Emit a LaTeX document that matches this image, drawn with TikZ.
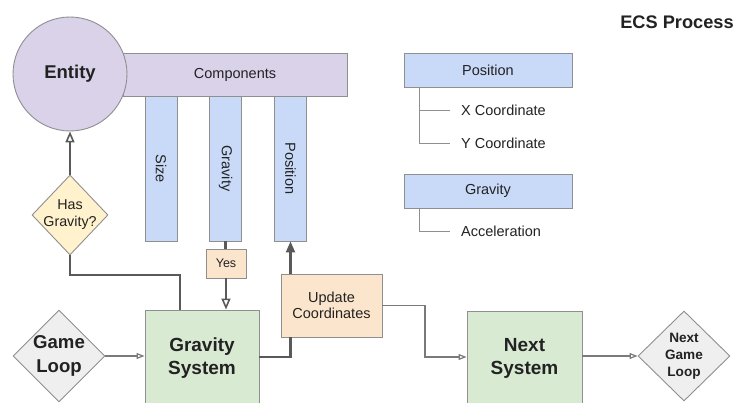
\documentclass[tikz,border=0pt]{standalone}
\usepackage{fontspec}
\setmainfont{Liberation Sans}
\usetikzlibrary{shapes.geometric,arrows.meta}
\definecolor{cpurp}{HTML}{D9D2E9}
\definecolor{cblue}{HTML}{C9DAF8}
\definecolor{corange}{HTML}{FCE5CD}
\definecolor{cyellow}{HTML}{FFF2CC}
\definecolor{cgreen}{HTML}{D9EAD3}
\definecolor{cgray}{HTML}{EFEFEF}
\definecolor{cborder}{HTML}{8F8F8F}
\definecolor{cdark}{HTML}{595959}
\definecolor{cthin}{HTML}{7A7A7A}
\definecolor{ctext}{HTML}{222222}
\tikzset{
  box/.style={draw=cborder, line width=0.9pt, inner sep=0pt, text=ctext, font=\fontsize{14.5}{17}\selectfont},
  bar/.style={box, fill=cblue, rotate=-90, minimum width=145pt, minimum height=32pt},
  diam/.style={draw=cborder, line width=0.9pt, diamond, inner sep=0pt, fill=cgray},
  sysbox/.style={box, fill=cgreen, align=center, font=\bfseries\fontsize{19}{23}\selectfont},
  thickline/.style={draw=cdark, line width=2.2pt},
  thinline/.style={draw=cthin, line width=1.3pt},
  opentip/.style={-{Triangle[open, length=11pt, width=9pt, line width=1.6pt]}},
  smallopen/.style={-{Triangle[open, length=8pt, width=6pt, line width=1.2pt]}},
  treeline/.style={draw=cborder, line width=0.9pt},
  leaf/.style={anchor=west, inner sep=0pt, text=ctext, font=\fontsize{14.5}{17}\selectfont}
}
\begin{document}
\begin{tikzpicture}[x=1pt,y=-1pt]
\useasboundingbox (0,0) rectangle (740,403);
\clip (0,0) rectangle (740,403);
\fill[white] (0,0) rectangle (740,403);

% components bar and entity
\node[box, fill=cpurp, minimum width=224pt, minimum height=43pt] (comp) at (235,74.5) {Components};
\node[box, fill=cpurp, circle, minimum size=114pt, font=\bfseries\fontsize{18.5}{22}\selectfont] (entity) at (70,74) {Entity};

% component bars (rotated: east anchor is the bottom end)
\node[bar] (sbar) at (161,168.5) {Size};
\node[bar] (gbar) at (225.5,168.5) {Gravity};
\node[bar] (pbar) at (290.5,168.5) {Position};

% yes and update
\node[box, fill=corange, minimum width=40pt, minimum height=29pt, font=\fontsize{12.5}{15}\selectfont] (yes) at (226,263.5) {Yes};
\node[box, fill=corange, minimum width=101pt, minimum height=63pt, align=center, font=\fontsize{14.5}{16}\selectfont] (upd) at (331.5,305.5) {Update\\Coordinates};

% systems
\node[sysbox, minimum width=114pt, minimum height=96pt] (gs) at (202,358) {Gravity\\System};
\node[sysbox, minimum width=115pt, minimum height=94pt] (ns) at (524.5,358) {Next\\System};

% diamonds
\node[diam, fill=cyellow, minimum width=76pt, minimum height=80pt,
  label={[align=center, text=ctext, font=\fontsize{14.3}{17}\selectfont]center:Has\\Gravity?}] (hasg) at (70,215) {};
\node[diam, minimum width=92pt, minimum height=92pt,
  label={[align=center, text=ctext, font=\bfseries\fontsize{18.6}{24}\selectfont]center:Game\\Loop}] (gl) at (59,356) {};
\node[diam, minimum width=92pt, minimum height=90pt,
  label={[align=center, text=ctext, font=\bfseries\fontsize{13.6}{17}\selectfont]center:Next\\Game\\Loop}] (ngl) at (684,356) {};

% right side
\node[text=ctext, font=\bfseries\fontsize{18.2}{22}\selectfont, inner sep=0pt] (title) at (677,22) {ECS Process};
\node[box, fill=cblue, minimum width=168pt, minimum height=34pt] (posbox) at (488,70) {Position};
\node[box, fill=cblue, minimum width=168pt, minimum height=34pt] (gravbox) at (488,191) {Gravity};
\node[leaf] (xc) at (461,110) {X Coordinate};
\node[leaf] (yc) at (461,143) {Y Coordinate};
\node[leaf] (acc) at (461,231) {Acceleration};
\coordinate (t1) at (419,0);
\coordinate (b1) at (450,0);
\draw[treeline] (t1 |- posbox.south) |- (b1 |- yc.west);
\draw[treeline] (t1 |- xc.west) -- (b1 |- xc.west);
\draw[treeline] (t1 |- gravbox.south) |- (b1 |- acc.west);

% connectors
\draw[thickline, opentip] (hasg.north) -- (entity.south);
\coordinate (k1) at (180,275);
\draw[thickline] (hasg.south) |- (k1) -- (k1 |- gs.north);
\draw[thickline] (gbar.east) -- (gbar.east |- yes.north);
\draw[thickline, opentip] (yes.south) -- (yes.south |- gs.north);
\draw[thickline] (gs.east |- 0,357) -| (pbar.center |- upd.south);
\draw[thickline, -{Triangle[length=11pt, width=9pt]}] (pbar.center |- upd.north) -- (pbar.east);
\coordinate (k2) at (425,0);
\draw[thinline, smallopen] (upd.east) -| (k2 |- 0,357) -- (ns.west |- 0,357);
\draw[thinline, smallopen] (gl.east) -- (gs.west |- gl.east);
\draw[thinline, smallopen] (ns.east |- ngl.west) -- (ngl.west);
\end{tikzpicture}
\end{document}
